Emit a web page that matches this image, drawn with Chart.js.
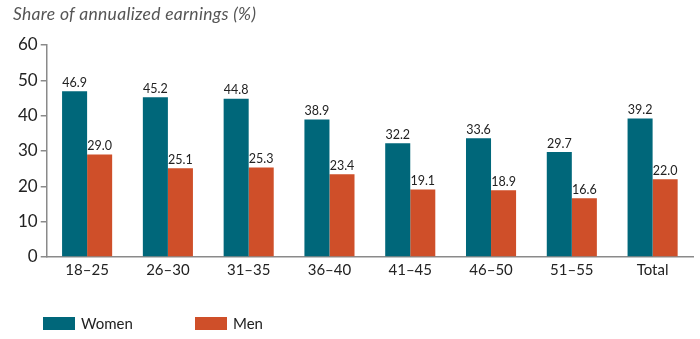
<!DOCTYPE html>
<html>
<head>
<meta charset="utf-8">
<script src="https://cdn.jsdelivr.net/npm/chart.js@4.4.1/dist/chart.umd.min.js"></script>
<style>
  html, body { margin: 0; padding: 0; background: #fff; }
  #wrap { position: relative; width: 700px; height: 339px; font-family: Lato, "Open Sans", sans-serif; }
  #title { position: absolute; left: 13px; top: 3px; font-size: 17.5px; font-style: italic; color: #555; letter-spacing: 0.3px; }
  #legend { position: absolute; left: 43px; top: 314px; font-size: 15px; color: #222; }
  .item { position: absolute; top: 0; white-space: nowrap; }
  .swatch { display: inline-block; width: 32px; height: 13px; vertical-align: -1px; margin-right: 6px; }
  canvas { position: absolute; left: 0; top: 0; }
</style>
</head>
<body>
<div id="wrap">
  <canvas id="chart" width="700" height="339"></canvas>
  <div id="title">Share of annualized earnings (%)</div>
  <div id="legend"></div>
</div>
<script>
'use strict';

// Age groups and the share of annualized earnings per sex
const ageGroups = ['18–25', '26–30', '31–35', '36–40', '41–45', '46–50', '51–55', 'Total'];
const women = [46.9, 45.2, 44.8, 38.9, 32.2, 33.6, 29.7, 39.2];
const men = [29.0, 25.1, 25.3, 23.4, 19.1, 18.9, 16.6, 22.0];
const yTicks = [0, 10, 20, 30, 40, 50, 60];

const TEAL = '#00677a';
const ORANGE = '#cf4f29';
const AXIS = '#8a8a8a';
const FONT = 'Lato, "Open Sans", sans-serif';

// Value printed above every bar
const barValues = {
  id: 'barValues',
  afterDatasetsDraw(chart) {
    const ctx = chart.ctx;
    ctx.save();
    ctx.font = '12.5px ' + FONT;
    ctx.fillStyle = '#222';
    ctx.textAlign = 'center';
    ctx.textBaseline = 'bottom';
    chart.data.datasets.forEach((ds, i) => {
      chart.getDatasetMeta(i).data.forEach((bar, j) => {
        ctx.fillText(ds.data[j].toFixed(1), bar.x, bar.y - 2);
      });
    });
    ctx.restore();
  }
};

const chart = new Chart(document.getElementById('chart').getContext('2d'), {
  type: 'bar',
  data: {
    labels: ageGroups,
    datasets: [
      { label: 'Women', data: women, backgroundColor: TEAL },
      { label: 'Men', data: men, backgroundColor: ORANGE }
    ]
  },
  options: {
    responsive: false,
    animation: false,
    layout: { padding: { top: 45, right: 7, bottom: 56, left: 15 } },
    datasets: { bar: { categoryPercentage: 0.62, barPercentage: 1.0 } },
    plugins: {
      legend: { display: false },
      tooltip: { enabled: false }
    },
    scales: {
      x: {
        grid: { display: false, drawTicks: false },
        border: { display: true, color: AXIS, width: 1.5 },
        ticks: { color: '#222', font: { family: FONT, size: 15 }, padding: 4, maxRotation: 0 }
      },
      y: {
        min: 0,
        max: 60,
        afterBuildTicks(axis) { axis.ticks = yTicks.map(v => ({ value: v })); },
        grid: { drawOnChartArea: false, drawTicks: true, tickLength: 6, color: AXIS, lineWidth: 1.5 },
        border: { display: true, color: AXIS, width: 1.5 },
        ticks: { color: '#222', font: { family: FONT, size: 17 }, padding: 3 }
      }
    }
  },
  plugins: [barValues]
});

// HTML legend under the plot
const legend = document.getElementById('legend');
[['Women', TEAL, 0], ['Men', ORANGE, 152]].forEach(([name, color, left]) => {
  const item = document.createElement('span');
  item.className = 'item';
  item.style.left = left + 'px';
  item.innerHTML = '<span class="swatch" style="background:' + color + '"></span>' + name;
  legend.appendChild(item);
});
</script>
</body>
</html>
